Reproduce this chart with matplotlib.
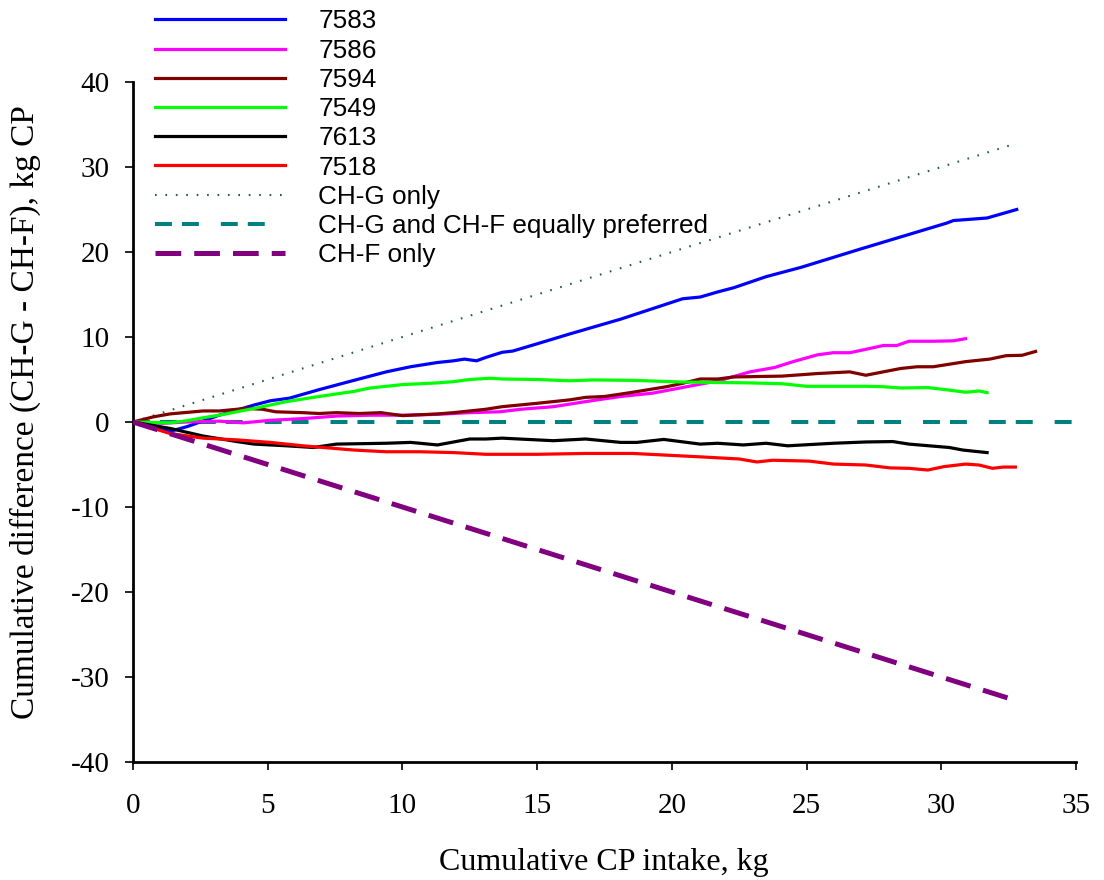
import numpy as np
import matplotlib
matplotlib.use("Agg")
import matplotlib.pyplot as plt

# cumulative CP intake (kg) vs cumulative difference (kg CP)
x_7583 = [0, 1.37, 2.0, 3.2, 4.5, 5.1, 5.8, 6.9, 8.2, 8.8, 9.4, 10.3, 11.3, 11.9, 12.3, 12.75,
          13.1, 13.7, 14.1, 15.0, 16.2, 18.1, 20.4, 21.05, 21.7, 22.3, 23.5, 24.8, 27.0, 30.2,
          30.45, 31.7, 32.8]
y_7583 = [0, -1.1, -0.55, 0.8, 2.0, 2.5, 2.8, 3.8, 4.9, 5.4, 5.9, 6.5, 7.0, 7.2, 7.4, 7.2,
          7.6, 8.2, 8.35, 9.2, 10.35, 12.1, 14.5, 14.7, 15.3, 15.8, 17.1, 18.2, 20.35, 23.4,
          23.7, 24.0, 25.0]

x_7586 = [0, 1.1, 2.0, 3.2, 4.1, 5.1, 6.3, 7.55, 8.8, 10.0, 11.3, 12.5, 13.6, 14.4, 15.6, 16.8,
          18.1, 19.3, 20.55, 21.8, 22.9, 23.8, 24.5, 25.4, 25.98, 26.6, 27.2, 27.85, 28.35, 28.8,
          29.7, 30.45, 30.9]
y_7586 = [0, -0.15, 0, 0.1, -0.1, 0.2, 0.4, 0.7, 0.8, 0.8, 0.9, 1.1, 1.2, 1.5, 1.8, 2.4,
          3.0, 3.4, 4.15, 4.9, 5.9, 6.4, 7.1, 7.9, 8.15, 8.15, 8.55, 9.0, 9.0, 9.5,
          9.5, 9.55, 9.8]

x_7594 = [0, 0.75, 1.37, 2.6, 3.2, 4.2, 4.8, 5.3, 6.3, 6.9, 7.55, 8.4, 9.2, 10.0, 11.3, 11.9,
          12.5, 13.1, 13.7, 15.0, 16.2, 16.8, 17.5, 18.55, 19.8, 20.4, 21.05, 21.7, 22.3, 24.1,
          25.4, 26.6, 27.2, 27.85, 28.5, 29.1, 29.7, 30.9, 31.8, 32.4, 33.0, 33.5]
y_7594 = [0, 0.6, 0.95, 1.3, 1.3, 1.6, 1.5, 1.2, 1.1, 1.0, 1.1, 1.0, 1.1, 0.75, 0.95, 1.1,
          1.3, 1.5, 1.8, 2.2, 2.6, 2.9, 3.0, 3.5, 4.15, 4.55, 5.06, 5.06, 5.3, 5.4,
          5.7, 5.9, 5.5, 5.9, 6.3, 6.5, 6.5, 7.1, 7.4, 7.8, 7.85, 8.3]

x_7549 = [0, 1.37, 2.0, 2.6, 3.2, 3.85, 4.5, 5.1, 5.7, 6.9, 8.2, 8.8, 10.0, 11.3, 11.9, 12.5,
          13.25, 13.7, 15.0, 16.2, 17.1, 18.55, 20.4, 22.9, 24.1, 25.0, 27.2, 27.85, 28.5, 29.5,
          30.3, 30.9, 31.4, 31.7]
y_7549 = [0, -0.1, 0.15, 0.5, 0.8, 1.2, 1.6, 2.0, 2.4, 3.0, 3.6, 4.0, 4.4, 4.6, 4.75, 5.0,
          5.15, 5.06, 5.0, 4.85, 4.95, 4.9, 4.7, 4.6, 4.5, 4.2, 4.2, 4.15, 4.0, 4.05,
          3.75, 3.5, 3.65, 3.45]

x_7613 = [0, 1.37, 2.6, 3.85, 4.5, 5.7, 6.7, 7.55, 9.4, 10.3, 10.65, 11.3, 12.5, 13.1, 13.7, 15.6,
          16.8, 18.1, 18.7, 19.7, 21.05, 21.7, 22.65, 23.5, 24.3, 26.0, 27.2, 28.2, 28.8, 30.3,
          30.8, 31.7]
y_7613 = [0, -0.75, -1.65, -2.3, -2.6, -2.8, -3.0, -2.6, -2.5, -2.4, -2.5, -2.7, -2.0, -2.0, -1.9, -2.2,
          -2.0, -2.4, -2.4, -2.05, -2.6, -2.5, -2.7, -2.5, -2.8, -2.5, -2.35, -2.3, -2.6, -3.0,
          -3.3, -3.6]

x_7518 = [0, 1.37, 2.6, 3.85, 5.1, 6.3, 8.2, 9.4, 10.65, 11.9, 13.1, 15.0, 16.8, 18.55, 19.8, 21.05,
          22.5, 23.15, 23.75, 25.1, 26.0, 27.2, 28.1, 28.8, 29.5, 30.1, 30.9, 31.4, 31.9, 32.3,
          32.75]
y_7518 = [0, -1.35, -1.9, -2.1, -2.4, -2.8, -3.3, -3.5, -3.5, -3.6, -3.8, -3.8, -3.7, -3.7, -3.9, -4.1,
          -4.35, -4.7, -4.5, -4.6, -4.95, -5.06, -5.4, -5.45, -5.65, -5.25, -4.95, -5.06, -5.45, -5.3,
          -5.3]

# reference lines
ref_g_x = [0, 32.6]
ref_g_y = [0, 32.6]
ref_eq_x = [0, 35]
ref_eq_y = [0, 0]
ref_f_x = [0, 32.7]
ref_f_y = [0, -32.7]

animals = ["7583", "7586", "7594", "7549", "7613", "7518"]
colours = ["#0000FF", "#FF00FF", "#800000", "#00FF00", "#000000", "#FF0000"]
series_x = [x_7583, x_7586, x_7594, x_7549, x_7613, x_7518]
series_y = [y_7583, y_7586, y_7594, y_7549, y_7613, y_7518]

plt.rcParams['axes.unicode_minus'] = False
plt.rcParams['lines.scale_dashes'] = False

serif = 'Liberation Serif'
sans = 'Liberation Sans'

fig = plt.figure(figsize=(11.04, 8.8), dpi=100)
ax = fig.add_axes([133 / 1104, 118 / 880, (1076 - 133) / 1104, (762 - 82) / 880])

# equal preference line sits under the animal curves
l_eq, = ax.plot(ref_eq_x, ref_eq_y, color="#008080", lw=2.9,
                dashes=(12.2, 7.2, 12.2, 15.8), zorder=1,
                label="CH-G and CH-F equally preferred")
l_g, = ax.plot(ref_g_x, ref_g_y, color="#1F5F4F", lw=1.5,
               dashes=(1.2, 6.3), zorder=1, label="CH-G only")

handles = []
for xs, ys, c, name in zip(series_x, series_y, colours, animals):
    h, = ax.plot(xs, ys, color=c, lw=2.3, zorder=2, label=name)
    handles.append(h)

l_f, = ax.plot(ref_f_x, ref_f_y, color="#800080", lw=3.6,
               dashes=(18.5, 9.4), zorder=3, label="CH-F only")

handles += [l_g, l_eq, l_f]

ax.set_xlim(0, 35)
ax.set_ylim(-40, 40)
ax.set_xticks(np.arange(0, 36, 5))
ax.set_yticks(np.arange(-40, 41, 10))
for s in ['top', 'right']:
    ax.spines[s].set_visible(False)
for s in ['left', 'bottom']:
    ax.spines[s].set_linewidth(2.0)
ax.tick_params(direction='out', length=6, width=1.2, labelsize=21)
ax.tick_params(axis='x', pad=16)
ax.tick_params(axis='y', pad=11)
for t in ax.get_xticklabels() + ax.get_yticklabels():
    t.set_fontfamily(serif)

fig.text(604 / 1104, 1 - 862 / 880, "Cumulative CP intake, kg", ha='center', va='center',
         fontsize=23, fontfamily=serif)
fig.text(25 / 1104, 1 - 412 / 880, "Cumulative difference (CH-G - CH-F), kg CP",
         ha='center', va='center', rotation=90, fontsize=24, fontfamily=serif)

leg = fig.legend(handles=handles, loc='upper left',
                 bbox_to_anchor=(155 / 1104, 1 - 9.5 / 880),
                 frameon=False, borderpad=0, borderaxespad=0,
                 handlelength=4.98, handletextpad=1.27, labelspacing=0.2,
                 prop={'family': sans, 'size': 18.8})

fig.savefig("out.png", dpi=100)
